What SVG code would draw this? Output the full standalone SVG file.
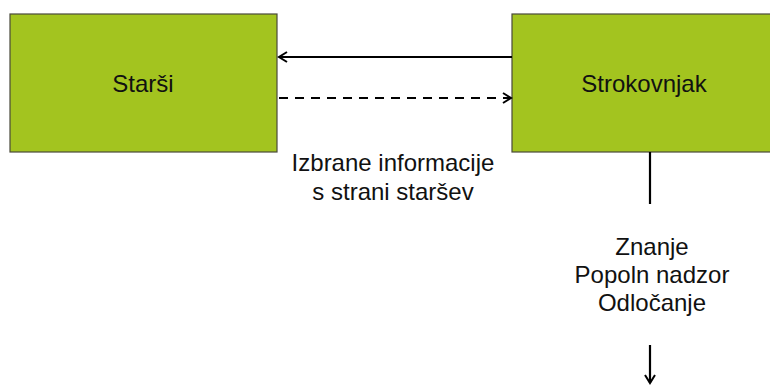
<svg xmlns="http://www.w3.org/2000/svg" width="770" height="385" viewBox="0 0 770 385">
<style>
.box{fill:#A3C41F;stroke:#4a4a3a;stroke-width:1.2}
.lbl{font-family:"Liberation Sans",Arial,sans-serif;font-size:24px;fill:#111;text-anchor:middle}
.ln{stroke:#000;stroke-width:2.2;fill:none}
</style>
<defs>
<marker id="ah" markerWidth="12" markerHeight="12" refX="10" refY="6" orient="auto" markerUnits="userSpaceOnUse">
<path d="M2,1 L10,6 L2,11" fill="none" stroke="#000" stroke-width="2"/>
</marker>
</defs>
<rect width="770" height="385" fill="#fff"/>
<g id="starsi">
<rect class="box" x="10" y="14" width="267" height="138"/>
<text class="lbl" x="143" y="92">Starši</text>
</g>
<g id="strokovnjak">
<rect class="box" x="512" y="14" width="262" height="138"/>
<text class="lbl" x="644" y="92">Strokovnjak</text>
</g>
<g id="connectors">
<line class="ln" x1="512" y1="57" x2="279" y2="57" marker-end="url(#ah)"/>
<line class="ln" x1="279" y1="98" x2="511" y2="98" stroke-dasharray="9,7" marker-end="url(#ah)"/>
<line class="ln" x1="650" y1="152" x2="650" y2="204"/>
<line class="ln" x1="650" y1="345" x2="650" y2="383" marker-end="url(#ah)"/>
</g>
<g id="labels">
<text class="lbl" x="393" y="171">Izbrane informacije</text>
<text class="lbl" x="393" y="200">s strani staršev</text>
<text class="lbl" x="652" y="255">Znanje</text>
<text class="lbl" x="652" y="283">Popoln nadzor</text>
<text class="lbl" x="652" y="311">Odločanje</text>
</g>
</svg>
